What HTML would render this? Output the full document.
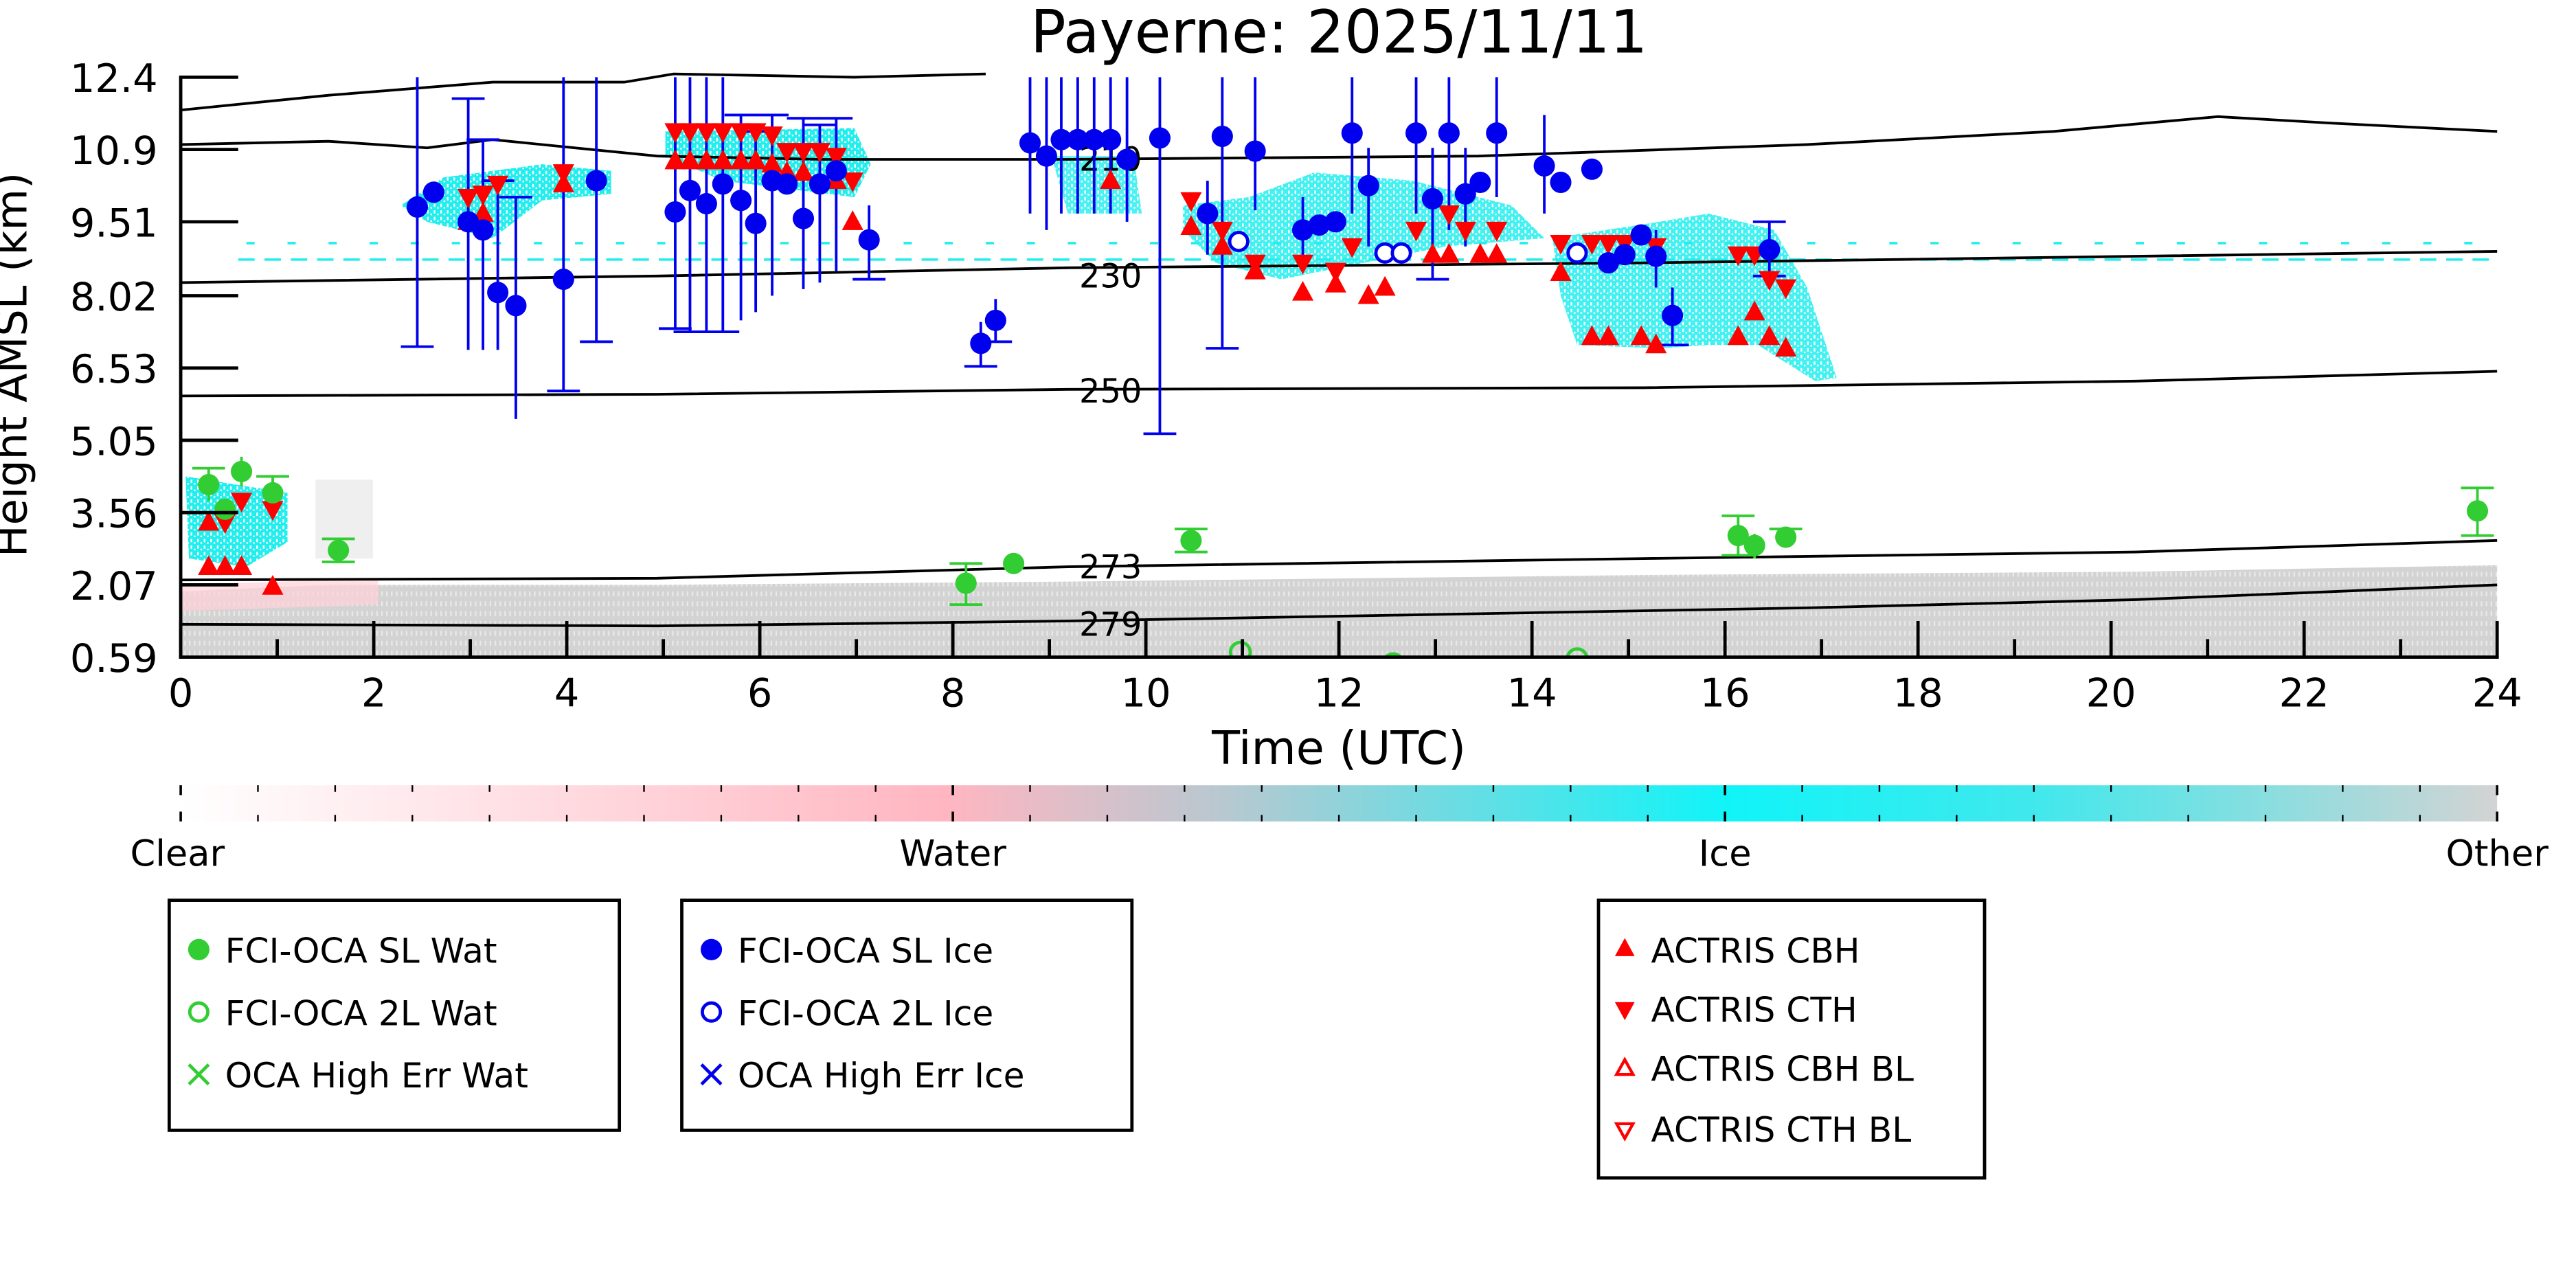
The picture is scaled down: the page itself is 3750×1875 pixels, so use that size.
<!DOCTYPE html>
<html><head><meta charset="utf-8"><style>
html,body{margin:0;padding:0;background:#fff}
svg{display:block}
text{font-family:"DejaVu Sans","Liberation Sans",sans-serif}
</style></head><body>
<svg width="3750" height="1875" viewBox="0 0 1568 784" xmlns="http://www.w3.org/2000/svg">
<defs>
<linearGradient id="cb" x1="0" x2="1" y1="0" y2="0">
<stop offset="0" stop-color="#ffffff"/>
<stop offset="0.33" stop-color="#ffb6c1"/>
<stop offset="0.45" stop-color="#b8c8d0"/>
<stop offset="0.667" stop-color="#10f4f8"/>
<stop offset="0.8" stop-color="#40e8ec"/>
<stop offset="1" stop-color="#d3d3d3"/>
</linearGradient>
<pattern id="cy" width="4" height="4" patternUnits="userSpaceOnUse"><rect width="4" height="4" fill="#22eeee"/><rect x="0" y="0" width="1" height="2" fill="#fff"/><rect x="2" y="2" width="1" height="1" fill="#fff"/></pattern>
<pattern id="gy" width="3" height="6" patternUnits="userSpaceOnUse"><rect width="3" height="6" fill="#d3d3d3"/><rect x="1" y="0" width="1" height="3" fill="#e8e8e8"/></pattern>
<g id="gc"><circle r="6.5" fill="#32cd32"/></g>
<g id="bc"><circle r="6.5" fill="#0000ee"/></g>
<g id="bo"><circle r="5.5" fill="#fff" stroke="#0000ee" stroke-width="2"/></g>
<g id="go"><circle r="6" fill="none" stroke="#32cd32" stroke-width="2"/></g>
<g id="tu"><path d="M0,-7 L6.5,5 L-6.5,5Z" fill="#f00"/></g>
<g id="td"><path d="M0,7 L6.5,-5 L-6.5,-5Z" fill="#f00"/></g>
</defs>
<text x="815" y="32" font-size="36" text-anchor="middle">Payerne: 2025/11/11</text>
<!-- gray BL band -->
<path d="M110,360 L200,356 L400,356 L650,354 L1000,350 L1300,348 L1520,344 L1520,400 L110,400Z" fill="url(#gy)"/>
<path d="M110,356 L230,352 L230,368 L110,372Z" fill="#ffd0d8" opacity="0.7"/>
<rect x="192" y="292" width="35" height="48" fill="#e4e4e4" opacity="0.6"/>
<!-- cyan cloud patches -->
<g fill="url(#cy)">
<path d="M244,125 L270,108 L330,100 L372,104 L372,118 L330,122 L300,145 L260,135Z"/>
<path d="M405,80 L520,78 L530,100 L520,120 L440,110 L405,95Z"/>
<path d="M640,95 L690,95 L695,130 L650,130Z" opacity="0.8"/>
<path d="M720,125 L760,120 L800,105 L860,110 L920,125 L940,145 L880,150 L830,160 L780,170 L740,160 L720,140Z" opacity="0.85"/>
<path d="M945,145 L1010,135 L1040,130 L1080,140 L1100,175 L1118,230 L1105,232 L1070,210 L1040,210 L1010,212 L960,210 L950,180Z" opacity="0.85"/>
<path d="M113,290 L175,300 L175,330 L150,345 L115,340Z"/>
</g>
<g stroke="#22eeee" stroke-width="1.5" stroke-dasharray="10,6"><line x1="145" y1="158" x2="1520" y2="158"/><line x1="150" y1="148" x2="1520" y2="148" stroke-dasharray="5,20"/></g>
<!-- contours -->
<g fill="none" stroke="#000" stroke-width="1.6">
<path d="M110,67 L200,58 L300,50 L380,50 L410,45 L520,47 L600,45"/>
<path d="M110,88 L200,86 L260,90 L300,85 L400,95 L500,97 L650,97 L900,95 L1100,88 L1250,80 L1350,71 L1420,75 L1520,80"/>
<path d="M110,172 L400,168 L650,163 L1000,160 L1300,156 L1520,153"/>
<path d="M110,241 L400,240 L650,237 L1000,236 L1300,232 L1520,226"/>
<path d="M110,353 L400,352 L650,345 L1000,340 L1300,336 L1520,329"/>
<path d="M110,380 L400,381 L650,378 L1100,370 L1300,365 L1520,356"/>
</g>
<g font-size="20" text-anchor="middle">
<text x="676" y="104">210</text><text x="676" y="175">230</text><text x="676" y="245">250</text><text x="676" y="352">273</text><text x="676" y="387">279</text></g>
<!-- error bars -->
<g stroke="#0000ee" stroke-width="1.6">
<path d="M254,47V211M244,211H264M285,60V213M275,60H295M294,85V213M284,85H304M303,110V213M293,110H313M314,120V255M304,120H324M343,47V238M333,238H353M363,47V208M353,208H373M411,47V200M401,200H421M420,47V202M410,202H430M430,47V202M420,202H440M440,47V202M430,202H450M451,70V195M441,70H461M460,80V190M450,80H470M470,70V180M460,70H480M489,72V176M479,72H499M499,76V172M489,76H509M509,72V165M499,72H519M529,125V170M519,170H539M597,196V223M587,223H607M606,182V208M596,208H616M627,47V130M637,47V140M646,47V130M656,47V130M666,47V130M676,47V130M686,47V135M706,47V264M696,264H716M735,110V155M744,47V212M734,212H754M764,47V128M793,120V160M823,47V130M833,90V150M862,47V130M872,90V170M862,170H882M882,47V140M892,90V150M911,47V120M940,70V130M1008,140V175M1018,175V210M1008,210H1028M1077,135V168M1067,135H1087M1067,168H1087"/>
</g>
<g stroke="#32cd32" stroke-width="1.6">
<path d="M127,285V305M117,285H137M147,278V296M166,290V310M156,290H176M206,328V342M196,328H216M196,342H216M588,343V368M578,343H598M578,368H598M617,340V346M725,322V336M715,322H735M715,336H735M1058,314V338M1048,314H1068M1048,338H1068M1068,325V340M1087,322V332M1077,322H1097M1508,297V326M1498,297H1518M1498,326H1518"/>
</g>
<!-- red triangles -->
<g>
<use href="#td" x="285" y="120"/><use href="#tu" x="285" y="135"/><use href="#td" x="294" y="118"/><use href="#td" x="303" y="112"/><use href="#tu" x="294" y="130"/>
<use href="#td" x="343" y="105"/><use href="#tu" x="343" y="112"/>
<use href="#td" x="411" y="80"/><use href="#td" x="420" y="80"/><use href="#td" x="430" y="80"/><use href="#td" x="440" y="80"/><use href="#td" x="451" y="80"/><use href="#td" x="460" y="80"/><use href="#td" x="470" y="82"/><use href="#td" x="479" y="92"/><use href="#td" x="489" y="92"/><use href="#td" x="499" y="92"/><use href="#td" x="509" y="95"/><use href="#td" x="519" y="110"/>
<use href="#tu" x="411" y="98"/><use href="#tu" x="420" y="98"/><use href="#tu" x="430" y="98"/><use href="#tu" x="440" y="98"/><use href="#tu" x="451" y="98"/><use href="#tu" x="460" y="98"/><use href="#tu" x="470" y="100"/><use href="#tu" x="479" y="105"/><use href="#tu" x="489" y="105"/><use href="#tu" x="509" y="110"/><use href="#tu" x="519" y="135"/>
<use href="#tu" x="676" y="110"/>
<use href="#td" x="725" y="122"/><use href="#tu" x="725" y="138"/><use href="#td" x="744" y="140"/><use href="#tu" x="744" y="150"/><use href="#tu" x="764" y="165"/><use href="#td" x="764" y="160"/>
<use href="#td" x="793" y="160"/><use href="#tu" x="793" y="178"/><use href="#td" x="813" y="165"/><use href="#tu" x="813" y="173"/><use href="#td" x="823" y="150"/><use href="#tu" x="833" y="180"/><use href="#tu" x="843" y="175"/>
<use href="#td" x="862" y="140"/><use href="#tu" x="872" y="155"/><use href="#td" x="882" y="130"/><use href="#tu" x="882" y="155"/><use href="#td" x="892" y="140"/><use href="#tu" x="901" y="155"/><use href="#td" x="911" y="140"/><use href="#tu" x="911" y="155"/>
<use href="#td" x="950" y="148"/><use href="#tu" x="950" y="166"/><use href="#td" x="969" y="148"/><use href="#tu" x="969" y="205"/><use href="#td" x="979" y="148"/><use href="#tu" x="979" y="205"/><use href="#td" x="989" y="148"/><use href="#tu" x="999" y="205"/><use href="#td" x="1008" y="150"/><use href="#tu" x="1008" y="210"/>
<use href="#td" x="1058" y="155"/><use href="#td" x="1068" y="155"/><use href="#tu" x="1068" y="190"/><use href="#td" x="1077" y="170"/><use href="#tu" x="1077" y="205"/><use href="#td" x="1087" y="175"/><use href="#tu" x="1087" y="212"/><use href="#tu" x="1058" y="205"/>
<use href="#tu" x="127" y="318"/><use href="#tu" x="137" y="345"/><use href="#tu" x="147" y="345"/><use href="#tu" x="127" y="345"/><use href="#td" x="137" y="318"/><use href="#td" x="147" y="305"/><use href="#tu" x="166" y="357"/><use href="#td" x="166" y="310"/>
</g>
<!-- blue circles -->
<g>
<use href="#bc" x="254" y="126"/><use href="#bc" x="264" y="117"/><use href="#bc" x="285" y="135"/><use href="#bc" x="294" y="140"/><use href="#bc" x="303" y="178"/><use href="#bc" x="314" y="186"/><use href="#bc" x="343" y="170"/><use href="#bc" x="363" y="110"/>
<use href="#bc" x="411" y="129"/><use href="#bc" x="420" y="116"/><use href="#bc" x="430" y="124"/><use href="#bc" x="440" y="112"/><use href="#bc" x="451" y="122"/><use href="#bc" x="460" y="136"/><use href="#bc" x="470" y="110"/><use href="#bc" x="479" y="112"/><use href="#bc" x="489" y="133"/><use href="#bc" x="499" y="112"/><use href="#bc" x="509" y="104"/><use href="#bc" x="529" y="146"/>
<use href="#bc" x="597" y="209"/><use href="#bc" x="606" y="195"/><use href="#bc" x="627" y="87"/><use href="#bc" x="637" y="95"/><use href="#bc" x="646" y="85"/><use href="#bc" x="656" y="85"/><use href="#bc" x="666" y="85"/><use href="#bc" x="676" y="85"/><use href="#bc" x="686" y="97"/><use href="#bc" x="706" y="84"/>
<use href="#bc" x="735" y="130"/><use href="#bc" x="744" y="83"/><use href="#bc" x="764" y="92"/><use href="#bc" x="793" y="140"/><use href="#bc" x="803" y="137"/><use href="#bc" x="813" y="135"/><use href="#bc" x="823" y="81"/><use href="#bc" x="833" y="113"/><use href="#bc" x="862" y="81"/><use href="#bc" x="872" y="121"/><use href="#bc" x="882" y="81"/><use href="#bc" x="892" y="118"/><use href="#bc" x="901" y="111"/><use href="#bc" x="911" y="81"/>
<use href="#bc" x="940" y="101"/><use href="#bc" x="950" y="111"/><use href="#bc" x="969" y="103"/><use href="#bc" x="979" y="160"/><use href="#bc" x="989" y="155"/><use href="#bc" x="999" y="143"/><use href="#bc" x="1008" y="156"/><use href="#bc" x="1018" y="192"/><use href="#bc" x="1077" y="152"/>
<use href="#bo" x="754" y="147"/><use href="#bo" x="843" y="154"/><use href="#bo" x="853" y="154"/><use href="#bo" x="960" y="154"/>
</g>
<!-- green circles -->
<g>
<use href="#gc" x="127" y="295"/><use href="#gc" x="147" y="287"/><use href="#gc" x="166" y="300"/><use href="#gc" x="137" y="310"/><use href="#gc" x="206" y="335"/><use href="#gc" x="588" y="355"/><use href="#gc" x="617" y="343"/><use href="#gc" x="725" y="329"/><use href="#gc" x="1058" y="326"/><use href="#gc" x="1068" y="332"/><use href="#gc" x="1087" y="327"/><use href="#gc" x="1508" y="311"/>
<use href="#go" x="755" y="397"/><use href="#go" x="848" y="404"/><use href="#go" x="960" y="401"/>
</g>
<rect x="0" y="401" width="1568" height="30" fill="#fff"/>
<!-- axes -->
<g stroke="#000" stroke-width="2">
<line x1="110" y1="46" x2="110" y2="401"/><line x1="109" y1="400" x2="1521" y2="400"/>
<path d="M110,47H145M110,91H145M110,135H145M110,180H145M110,224H145M110,268H145M110,312H145M110,356H145"/>
<path d="M110,400V378M227.5,400V378M345,400V378M462.5,400V378M580,400V378M697.5,400V378M815,400V378M932.5,400V378M1050,400V378M1167.5,400V378M1285,400V378M1402.5,400V378M1520,400V378"/>
<path d="M168.75,400V389M286.25,400V389M403.75,400V389M521.25,400V389M638.75,400V389M756.25,400V389M873.75,400V389M991.25,400V389M1108.75,400V389M1226.25,400V389M1343.75,400V389M1461.25,400V389"/>
</g>
<g font-size="24" text-anchor="end">
<text x="96" y="56">12.4</text><text x="96" y="100">10.9</text><text x="96" y="144">9.51</text><text x="96" y="189">8.02</text><text x="96" y="233">6.53</text><text x="96" y="277">5.05</text><text x="96" y="321">3.56</text><text x="96" y="365">2.07</text><text x="96" y="409">0.59</text>
</g>
<g font-size="24" text-anchor="middle">
<text x="110" y="430">0</text><text x="227.5" y="430">2</text><text x="345" y="430">4</text><text x="462.5" y="430">6</text><text x="580" y="430">8</text><text x="697.5" y="430">10</text><text x="815" y="430">12</text><text x="932.5" y="430">14</text><text x="1050" y="430">16</text><text x="1167.5" y="430">18</text><text x="1285" y="430">20</text><text x="1402.5" y="430">22</text><text x="1520" y="430">24</text>
<text x="815" y="465" font-size="28">Time (UTC)</text>
<text transform="translate(16,222) rotate(-90)" font-size="26">Height AMSL (km)</text>
</g>
<!-- colorbar -->
<rect x="110" y="478" width="1410" height="22" fill="url(#cb)"/>
<g stroke="#000" stroke-width="1">
<path d="M157,478v4M204,478v4M251,478v4M298,478v4M345,478v4M392,478v4M439,478v4M486,478v4M533,478v4M627,478v4M674,478v4M721,478v4M768,478v4M815,478v4M862,478v4M909,478v4M956,478v4M1003,478v4M1097,478v4M1144,478v4M1191,478v4M1238,478v4M1285,478v4M1332,478v4M1379,478v4M1426,478v4M1473,478v4"/>
<path d="M157,500v-4M204,500v-4M251,500v-4M298,500v-4M345,500v-4M392,500v-4M439,500v-4M486,500v-4M533,500v-4M627,500v-4M674,500v-4M721,500v-4M768,500v-4M815,500v-4M862,500v-4M909,500v-4M956,500v-4M1003,500v-4M1097,500v-4M1144,500v-4M1191,500v-4M1238,500v-4M1285,500v-4M1332,500v-4M1379,500v-4M1426,500v-4M1473,500v-4"/>
<path d="M110,478v6M580,478v6M1050,478v6M1520,478v6M110,500v-6M580,500v-6M1050,500v-6M1520,500v-6" stroke-width="1.5"/>
</g>
<g font-size="22" text-anchor="middle">
<text x="108" y="527">Clear</text><text x="580" y="527">Water</text><text x="1050" y="527">Ice</text><text x="1520" y="527">Other</text>
</g>
<!-- legends -->
<g fill="#fff" stroke="#000" stroke-width="2">
<rect x="103" y="548" width="274" height="140"/><rect x="415" y="548" width="274" height="140"/><rect x="973" y="548" width="235" height="169"/>
</g>
<g font-size="21">
<circle cx="121" cy="578" r="6.5" fill="#32cd32"/><text x="137" y="586">FCI-OCA SL Wat</text>
<circle cx="121" cy="616" r="5.5" fill="none" stroke="#32cd32" stroke-width="2"/><text x="137" y="624">FCI-OCA 2L Wat</text>
<path d="M115,648l12,12M127,648l-12,12" stroke="#32cd32" stroke-width="2"/><text x="137" y="662">OCA High Err Wat</text>
<circle cx="433" cy="578" r="6.5" fill="#0000ee"/><text x="449" y="586">FCI-OCA SL Ice</text>
<circle cx="433" cy="616" r="5.5" fill="none" stroke="#0000ee" stroke-width="2"/><text x="449" y="624">FCI-OCA 2L Ice</text>
<path d="M427,648l12,12M439,648l-12,12" stroke="#0000ee" stroke-width="2"/><text x="449" y="662">OCA High Err Ice</text>
<path d="M989,571l6,11h-12z" fill="#f00"/><text x="1005" y="586">ACTRIS CBH</text>
<path d="M989,621l6,-11h-12z" fill="#f00"/><text x="1005" y="622">ACTRIS CTH</text>
<path d="M989,645l5,9h-10z" fill="none" stroke="#f00" stroke-width="1.8"/><text x="1005" y="658">ACTRIS CBH BL</text>
<path d="M989,693l5,-9h-10z" fill="none" stroke="#f00" stroke-width="1.8"/><text x="1005" y="695">ACTRIS CTH BL</text>
</g>
</svg>
</body></html>
